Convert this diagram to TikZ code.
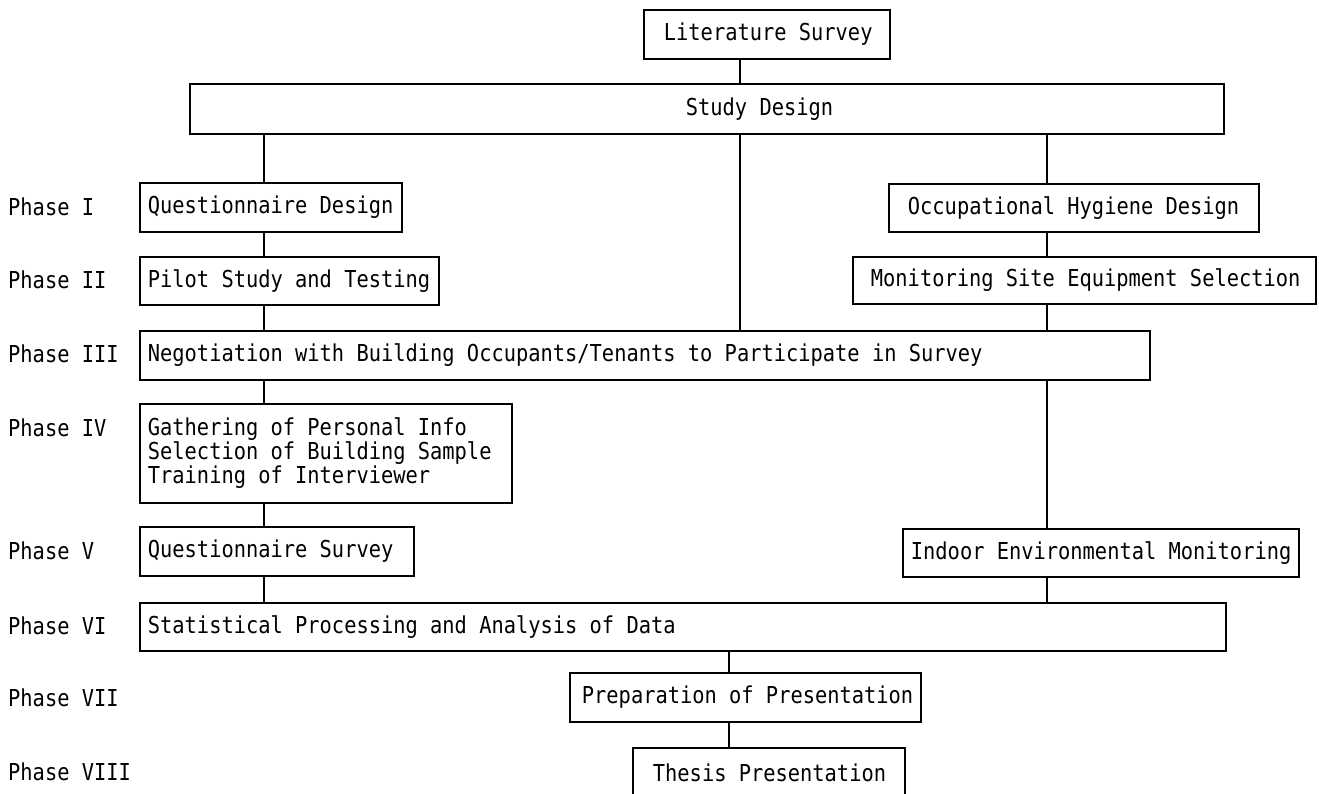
\documentclass[tikz,border=0pt]{standalone}
\usepackage{fontspec}
\setmainfont[FakeStretch=0.875]{DejaVu Sans Mono}
\newcommand{\monofnt}{\fontsize{23.3pt}{24pt}\selectfont\fontdimen2\font=12.27pt\fontdimen3\font=0pt\fontdimen4\font=0pt\fontdimen7\font=0pt\relax}
\newcommand{\fullspaces}{\spaceskip=12.27pt\relax\xspaceskip=12.27pt\relax}
\begin{document}
\begin{tikzpicture}[x=1pt,y=-1pt,
  every node/.style={font=\monofnt},
  box/.style={draw, line width=1.8pt, inner sep=0pt, align=left, anchor=north west, execute at begin node=\fullspaces},
  phase/.style={anchor=west, inner sep=0pt},
  conn/.style={line width=1.8pt}]
\path[use as bounding box, clip] (0,0) rectangle (1319,793);
\fill[white] (0,0) rectangle (1319,793);
% column coordinates
\coordinate (xl) at (264,0);
\coordinate (xc) at (740,0);
\coordinate (xr) at (1047,0);
\coordinate (xb) at (729,0);
% boxes
\node[box, text width=246, minimum height=49] (ls) at (643,9) {\hspace*{20pt}Literature Survey};
\node[box, text width=1034, minimum height=50] (sd) at (189,83) {\hspace*{496pt}Study Design};
\node[box, text width=262, minimum height=49] (qd) at (139,182) {\hspace*{8pt}Questionnaire Design};
\node[box, text width=370, minimum height=48] (ohd) at (888,183) {\hspace*{19pt}Occupational Hygiene Design};
\node[box, text width=299, minimum height=48] (pilot) at (139,256) {\hspace*{8pt}Pilot Study and Testing};
\node[box, text width=463, minimum height=47] (mses) at (852,256) {\hspace*{18pt}Monitoring Site Equipment Selection};
\node[box, text width=1010, minimum height=49] (neg) at (139,330) {\hspace*{8pt}Negotiation with Building Occupants/Tenants to Participate in Survey};
\node[box, text width=372, minimum height=99] (gath) at (139,403) {\hspace*{8pt}Gathering of Personal Info\\\hspace*{8pt}Selection of Building Sample\\\hspace*{8pt}Training of Interviewer};
\node[box, text width=274, minimum height=49] (qs) at (139,526) {\hspace*{8pt}Questionnaire Survey};
\node[box, text width=396, minimum height=48] (iem) at (902,528) {\hspace*{8pt}Indoor Environmental Monitoring};
\node[box, text width=1086, minimum height=48] (stat) at (139,602) {\hspace*{8pt}Statistical Processing and Analysis of Data};
\node[box, text width=351, minimum height=49] (prep) at (569,672) {\hspace*{12pt}Preparation of Presentation};
\node[box, text width=272, minimum height=50] (thesis) at (632,747) {\hspace*{20pt}Thesis Presentation};
% phase labels
\node[phase] (p1) at (8,207) {Phase I};
\node[phase] (p2) at (8,280) {Phase II};
\node[phase] (p3) at (8,354) {Phase III};
\node[phase] (p4) at (8,428) {Phase IV};
\node[phase] (p5) at (8,551) {Phase V};
\node[phase] (p6) at (8,626) {Phase VI};
\node[phase] (p7) at (8,698) {Phase VII};
\node[phase] (p8) at (8,772) {Phase VIII};
% connectors
\draw[conn] (ls.south -| xc) -- (sd.north -| xc);
\draw[conn] (sd.south -| xl) -- (qd.north -| xl);
\draw[conn] (sd.south -| xc) -- (neg.north -| xc);
\draw[conn] (sd.south -| xr) -- (ohd.north -| xr);
\draw[conn] (qd.south -| xl) -- (pilot.north -| xl);
\draw[conn] (ohd.south -| xr) -- (mses.north -| xr);
\draw[conn] (pilot.south -| xl) -- (neg.north -| xl);
\draw[conn] (mses.south -| xr) -- (neg.north -| xr);
\draw[conn] (neg.south -| xl) -- (gath.north -| xl);
\draw[conn] (neg.south -| xr) -- (iem.north -| xr);
\draw[conn] (gath.south -| xl) -- (qs.north -| xl);
\draw[conn] (qs.south -| xl) -- (stat.north -| xl);
\draw[conn] (iem.south -| xr) -- (stat.north -| xr);
\draw[conn] (stat.south -| xb) -- (prep.north -| xb);
\draw[conn] (prep.south -| xb) -- (thesis.north -| xb);
\end{tikzpicture}
\end{document}
